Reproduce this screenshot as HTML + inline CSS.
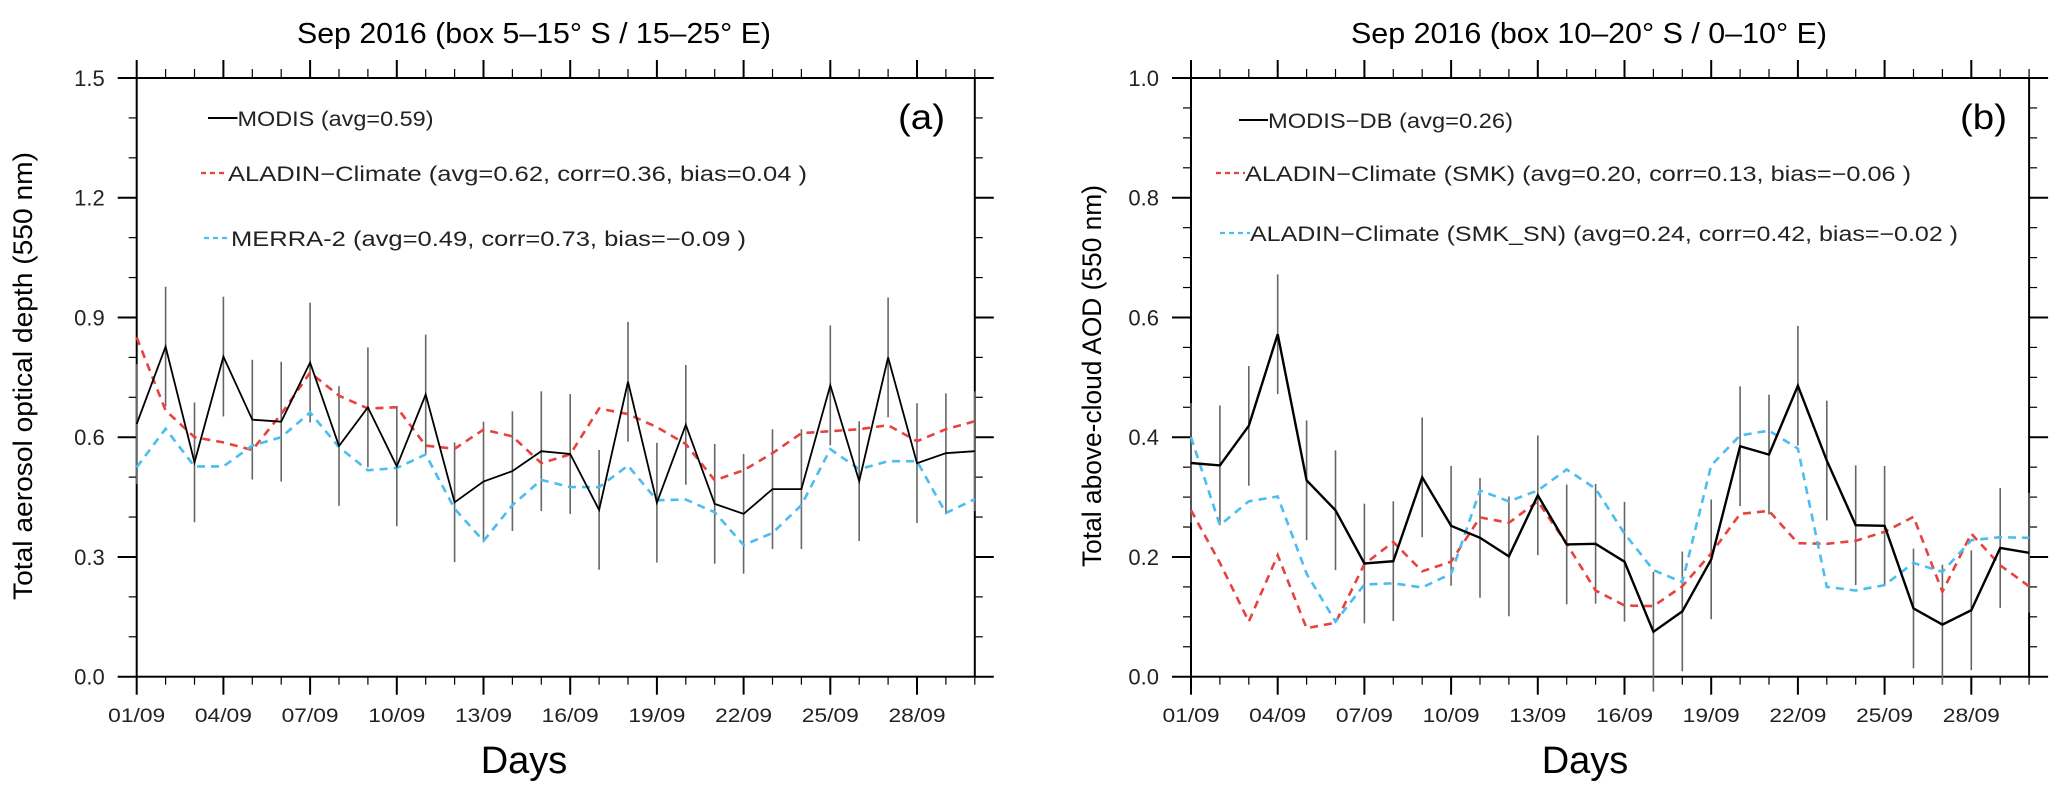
<!DOCTYPE html>
<html><head><meta charset="utf-8"><style>
html,body{margin:0;padding:0;background:#fff;}
svg{display:block;font-family:"Liberation Sans",sans-serif;}
</style></head><body>
<svg id="chart" width="2067" height="801" viewBox="0 0 2067 801" xmlns="http://www.w3.org/2000/svg">
<rect width="2067" height="801" fill="#fff"/>
<g id="pa"></g>
<g id="pb"></g>
</svg>
<script>
// ---- data ----
const days = [1,2,3,4,5,6,7,8,9,10,11,12,13,14,15,16,17,18,19,20,21,22,23,24,25,26,27,28,29,30];
const xTickLabels = ["01/09","04/09","07/09","10/09","13/09","16/09","19/09","22/09","25/09","28/09"];
const xTickDays = [1,4,7,10,13,16,19,22,25,28];

const aModis = [0.633,0.827,0.537,0.802,0.644,0.639,0.787,0.578,0.675,0.527,0.707,0.437,0.489,0.515,0.565,0.558,0.418,0.739,0.436,0.631,0.433,0.408,0.47,0.47,0.73,0.49,0.80,0.535,0.56,0.565];
const aModisErr = [0.15,0.15,0.15,0.15,0.15,0.15,0.15,0.15,0.15,0.15,0.15,0.15,0.15,0.15,0.15,0.15,0.15,0.15,0.15,0.15,0.15,0.15,0.15,0.15,0.15,0.15,0.15,0.15,0.15,0.15];
const aAladin = [0.85,0.667,0.6,0.587,0.568,0.658,0.762,0.704,0.672,0.675,0.579,0.571,0.619,0.602,0.535,0.557,0.672,0.658,0.625,0.583,0.492,0.517,0.56,0.61,0.615,0.62,0.63,0.59,0.62,0.64];
const aMerra = [0.525,0.621,0.527,0.527,0.579,0.6,0.662,0.575,0.517,0.523,0.557,0.421,0.34,0.43,0.493,0.475,0.475,0.529,0.442,0.444,0.412,0.33,0.36,0.43,0.57,0.52,0.54,0.54,0.41,0.445];
const aYTicks = [0.0,0.3,0.6,0.9,1.2,1.5];
const aYTickLabels = ["0.0","0.3","0.6","0.9","1.2","1.5"];

const bModis = [0.357,0.353,0.419,0.572,0.328,0.278,0.189,0.193,0.333,0.252,0.232,0.201,0.303,0.221,0.222,0.192,0.075,0.109,0.196,0.385,0.371,0.486,0.361,0.253,0.252,0.114,0.087,0.111,0.215,0.207];
const bModisErr = [0.1,0.1,0.1,0.1,0.1,0.1,0.1,0.1,0.1,0.1,0.1,0.1,0.1,0.1,0.1,0.1,0.1,0.1,0.1,0.1,0.1,0.1,0.1,0.1,0.1,0.1,0.1,0.1,0.1,0.1];
const bSmk = [0.278,0.19,0.092,0.203,0.081,0.09,0.188,0.225,0.176,0.192,0.266,0.257,0.293,0.222,0.144,0.119,0.118,0.151,0.206,0.272,0.277,0.223,0.222,0.227,0.242,0.267,0.142,0.239,0.186,0.151];
const bSmkSn = [0.4,0.253,0.293,0.301,0.172,0.092,0.154,0.156,0.149,0.172,0.311,0.293,0.311,0.346,0.314,0.239,0.178,0.158,0.353,0.403,0.411,0.381,0.15,0.144,0.153,0.19,0.175,0.228,0.233,0.232];
const bYTicks = [0.0,0.2,0.4,0.6,0.8,1.0];
const bYTickLabels = ["0.0","0.2","0.4","0.6","0.8","1.0"];

// ---- helpers ----
const NS = "http://www.w3.org/2000/svg";
function mk(parent, tag, attrs, text){
  const e = document.createElementNS(NS, tag);
  for (const k in attrs) e.setAttribute(k, attrs[k]);
  if (text !== undefined) e.textContent = text;
  parent.appendChild(e);
  return e;
}
const RED = "#e8423f", BLUE = "#4bbdf0";

function panel(g, cfg){
  const L = cfg.left, R = cfg.left + 29*28.9, T = 78, B = 676.7;
  const xs = d => L + (d - 1) * (R - L) / 29;
  const ys = v => B - v * (B - T) / cfg.ymax;

  // ticks
  for (let d = 1; d <= 30; d++) {
    const maj = xTickDays.includes(d);
    let t = mk(g, "line", {x1: xs(d), x2: xs(d), y1: B, y2: B + (maj ? 18 : 8), stroke: "#000", "stroke-width": maj ? 2 : 1.2});
    
    
    let t2 = mk(g, "line", {x1: xs(d), x2: xs(d), y1: T, y2: T - (maj ? 18 : 9), stroke: "#000", "stroke-width": maj ? 2 : 1.2});
    
    
  }
  const nMinor = cfg.ymax / cfg.minor;
  for (let i = 0; i <= nMinor; i++) {
    const v = i * cfg.minor;
    const maj = Math.abs(v / cfg.major - Math.round(v / cfg.major)) < 1e-6;
    let t = mk(g, "line", {x1: L - (maj ? 19 : 8), x2: L, y1: ys(v), y2: ys(v), stroke: "#000", "stroke-width": maj ? 2 : 1.2});
    
    
    let t2 = mk(g, "line", {x1: R, x2: R + (maj ? 19 : 8), y1: ys(v), y2: ys(v), stroke: "#000", "stroke-width": maj ? 2 : 1.2});
    
    
  }
  // frame
  let fr = mk(g, "rect", {x: L, y: T, width: R - L, height: B - T, fill: "none", stroke: "#000", "stroke-width": 2});
  
  

  // tick labels
  xTickDays.forEach((d, i) => {
    let t = mk(g, "text", {x: xs(d), y: 722, "text-anchor": "middle", "font-size": 19, textLength: 57, lengthAdjust: "spacingAndGlyphs", fill: "#222"}, xTickLabels[i]);
    
    
  });
  cfg.yTicks.forEach((v, i) => {
    let t = mk(g, "text", {x: L - 32, y: ys(v) + 8, "text-anchor": "end", "font-size": 22, fill: "#222"}, cfg.yLabels[i]);
    
    
  });

  // error bars
  cfg.err.forEach((e, i) => {
    const v = cfg.series[0][i];
    let b = mk(g, "line", {x1: xs(days[i]), x2: xs(days[i]), y1: ys(v - e), y2: ys(v + e), stroke: "#666", "stroke-width": 1.6});
    
    
  });
  // series
  const styles = [
    {stroke: "#000", "stroke-width": cfg.mw, fill: "none"},
    {stroke: RED, "stroke-width": 2.6, fill: "none", "stroke-dasharray": "8 6"},
    {stroke: BLUE, "stroke-width": 2.6, fill: "none", "stroke-dasharray": "8 6"}
  ];
  const order = [1, 2, 0];
  order.forEach(si => {
    const pts = cfg.series[si].map((v, i) => xs(days[i]).toFixed(1) + "," + ys(v).toFixed(1)).join(" ");
    const p = mk(g, "polyline", Object.assign({points: pts}, styles[si]));
    
    
  });

  // legend
  cfg.legend.forEach((lg, i) => {
    const st = Object.assign({}, styles[i]);
    st["stroke-width"] = i === 0 ? 2 : 2.2;
    if (i > 0) st["stroke-dasharray"] = "5 4";
    let ln = mk(g, "line", Object.assign({x1: lg.x1, x2: lg.x2, y1: lg.y, y2: lg.y}, st));
    
    
    let t = mk(g, "text", {x: lg.x2, y: lg.y + 8, "font-size": 21, textLength: lg.w, lengthAdjust: "spacingAndGlyphs", fill: "#222"}, lg.text);
    
    
  });

  // titles
  let tt = mk(g, "text", {x: cfg.title.x, y: 43, "font-size": 29, textLength: cfg.title.w, lengthAdjust: "spacingAndGlyphs", fill: "#000"}, cfg.title.text);
  
  
  let pl = mk(g, "text", {x: cfg.plabel.x, y: 129, "font-size": 35, textLength: 47, lengthAdjust: "spacingAndGlyphs", fill: "#000"}, cfg.plabel.text);
  
  
  let yt = mk(g, "text", {x: 0, y: 0, "font-size": 27, "text-anchor": "middle", textLength: cfg.ytitle.w, lengthAdjust: "spacingAndGlyphs", transform: "translate(" + (cfg.ytitle.x + 10) + ",376) rotate(-90)", fill: "#000"}, cfg.ytitle.text);
  
  
  let xt = mk(g, "text", {x: cfg.daysX, y: 773, "font-size": 38, "text-anchor": "middle", fill: "#000"}, "Days");
  
  
}

panel(document.getElementById("pa"), {
  left: 136.7, ymax: 1.5, minor: 0.1, major: 0.3, mw: 1.8,
  yTicks: aYTicks, yLabels: aYTickLabels,
  series: [aModis, aAladin, aMerra], err: aModisErr,
  names: ["modis-line", "aladin-climate-line", "merra2-line"],
  legend: [
    {x1: 208, x2: 237.5, y: 118, w: 196, text: "MODIS (avg=0.59)"},
    {x1: 201, x2: 228, y: 173, w: 579, text: "ALADIN\u2212Climate (avg=0.62, corr=0.36, bias=0.04 )"},
    {x1: 204, x2: 231, y: 238, w: 515, text: "MERRA-2 (avg=0.49, corr=0.73, bias=\u22120.09 )"}
  ],
  title: {x: 297, w: 474, text: "Sep 2016 (box 5\u201315\u00b0 S / 15\u201325\u00b0 E)"},
  plabel: {x: 898, text: "(a)"},
  ytitle: {x: 22, w: 448, text: "Total aerosol optical depth (550 nm)"},
  daysX: 524
});
panel(document.getElementById("pb"), {
  left: 1191, ymax: 1.0, minor: 0.05, major: 0.2, mw: 2.4,
  yTicks: bYTicks, yLabels: bYTickLabels,
  series: [bModis, bSmk, bSmkSn], err: bModisErr,
  names: ["modis-db-line", "aladin-smk-line", "aladin-smk-sn-line"],
  legend: [
    {x1: 1239, x2: 1268, y: 120, w: 245, text: "MODIS\u2212DB (avg=0.26)"},
    {x1: 1216, x2: 1245, y: 173, w: 666, text: "ALADIN\u2212Climate (SMK) (avg=0.20, corr=0.13, bias=\u22120.06 )"},
    {x1: 1220, x2: 1250, y: 233, w: 708, text: "ALADIN\u2212Climate (SMK_SN) (avg=0.24, corr=0.42, bias=\u22120.02 )"}
  ],
  title: {x: 1351, w: 476, text: "Sep 2016 (box 10\u201320\u00b0 S / 0\u201310\u00b0 E)"},
  plabel: {x: 1960, text: "(b)"},
  ytitle: {x: 1091, w: 382, text: "Total above-cloud AOD (550 nm)"},
  daysX: 1585
});
</script>
</body></html>
